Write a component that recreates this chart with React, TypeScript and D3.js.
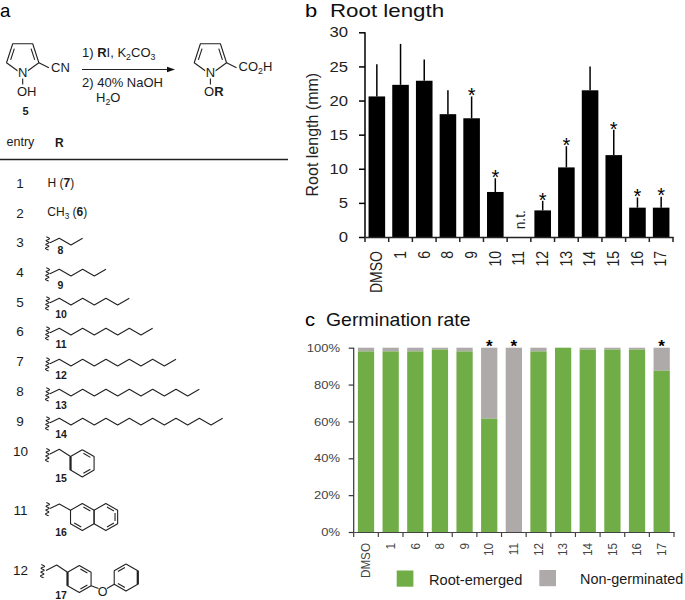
import { useEffect, useRef } from 'react';
import * as d3 from 'd3';

const categories = ["DMSO", "1", "6", "8", "9", "10", "11", "12", "13", "14", "15", "16", "17"];
// null = not tested
const rootLength = [20.6, 22.3, 22.9, 18.0, 17.4, 6.6, null, 3.9, 10.2, 21.5, 12.0, 4.3, 4.3];
const rootLengthTop = [25.3, 28.3, 26.0, 21.5, 20.6, 8.6, null, 5.3, 13.3, 25.0, 15.7, 5.8, 5.9];
const rootStars = ["9", "10", "12", "13", "15", "16", "17"];
const rootEmerged = [98, 98, 98, 99, 98, 61.5, 0, 98, 100, 99, 99, 99, 87.5];
const germStars = ["10", "11", "17"];

const GREEN = "#70ad47";
const GREY = "#aeaaaa";
const FONT = "'Liberation Sans', Arial, sans-serif";

// alkyl chains of table a: entry, label, zigzag steps, peak y, entry baseline, label baseline
const chainEntries = ["3", "4", "5", "6", "7", "8", "9"];
const chainLabels = ["8", "9", "10", "11", "12", "13", "14"];
const chainSteps = [2, 4, 6, 8, 10, 12, 14];
const chainY = [238.3, 269.3, 298.3, 328.3, 359.3, 389.3, 418.3];
const chainEntryY = [246.7, 277, 306.7, 336, 366, 395.7, 426];
const chainLabelY = [254.3, 288.7, 318.3, 348.3, 379.3, 408.7, 438.3];

const App = () => {
  const svgRef = useRef<SVGSVGElement>(null);

  useEffect(() => {
    const svg = d3.select(svgRef.current);
    svg.selectAll("*").remove();
    svg.style("font-family", FONT);

    const label = (g: any, x: number, y: number, parts: any, size: number, anchor = "start", fill = "#1a1a1a", sx = 1) => {
      const t = g.append("text").attr("font-size", size).attr("text-anchor", anchor).attr("fill", fill);
      // the source figure is a little wider than tall, sx puts that back
      if (sx === 1) t.attr("x", x).attr("y", y);
      else t.attr("transform", `translate(${x},${y}) scale(${sx},1)`);
      const list = typeof parts === "string" ? [[parts]] : parts;
      list.forEach(([s, kind]: string[]) => {
        const sp = t.append("tspan").text(s);
        if (kind === "b") sp.attr("font-weight", "bold");
        if (kind === "sub") sp.attr("font-size", size * 0.68).attr("dy", size * 0.25);
        if (kind === "after") sp.attr("dy", -size * 0.25);
      });
      return t;
    };

    const line = d3.line();
    const bond = (g: any, pts: [number, number][], w = 1.1) =>
      g.append("path").attr("d", line(pts)).attr("fill", "none").attr("stroke", "#222")
        .attr("stroke-width", w).attr("stroke-linejoin", "round");

    // regular polygon vertices, start angle in degrees
    const polygon = (cx: number, cy: number, r: number, n: number, start: number): [number, number][] =>
      d3.range(n).map(i => {
        const a = (start + i * 360 / n) * Math.PI / 180;
        return [cx + r * Math.cos(a), cy + r * Math.sin(a)] as [number, number];
      });

    // ring outline plus inner lines on the given edges
    const ring = (g: any, pts: [number, number][], cx: number, cy: number, doubles: number[], bold: number[] = []) => {
      bond(g, [...pts, pts[0]]);
      doubles.forEach(i => {
        const a = pts[i], b = pts[(i + 1) % pts.length];
        const inner = (p: [number, number], q: [number, number]): [number, number] => {
          const mx = p[0] + (q[0] - p[0]) * 0.12, my = p[1] + (q[1] - p[1]) * 0.12;
          return [cx + (mx - cx) * 0.78, cy + (my - cy) * 0.78];
        };
        bond(g, [inner(a, b), inner(b, a)]);
      });
      bold.forEach(i => bond(g, [pts[i], pts[(i + 1) % pts.length]], 2.2));
    };

    const squiggle = (g: any, x: number, y: number) => {
      const wave = d3.line().curve(d3.curveCatmullRom);
      const pts = d3.range(8).map(i => [x + (i % 2 ? 1.7 : -1.7) - i * 0.15, y - 6.5 + i * 1.9] as [number, number]);
      g.append("path").attr("d", wave(pts)).attr("fill", "none").attr("stroke", "#222").attr("stroke-width", 1.1);
    };

    const pyrrole = (g: any, cx: number) => {
      const cy = 57.5;
      const pts = polygon(cx, cy, 17, 5, 90);
      // pts: 0 = N (bottom), 1 = lower left, 2 = upper left, 3 = upper right, 4 = lower right
      ring(g, pts, cx, cy, [1, 3]);
      g.append("circle").attr("cx", pts[0][0]).attr("cy", pts[0][1] - 2).attr("r", 5.5).attr("fill", "#fff");
      bond(g, [[pts[4][0] + 10, pts[4][1] + 5], pts[4]]);
      bond(g, [[pts[0][0], pts[0][1] + 4], [pts[0][0], pts[0][1] + 10]]);
      label(g, cx, 76.7, "N", 13, "middle");
    };

    /* ---------- panel a ---------- */
    const a = svg.append("g");
    label(a, 0, 16.8, "a", 18.6, "start", "#000");
    pyrrole(a, 22.7);
    pyrrole(a, 210.4);
    label(a, 51, 72, "CN", 13);
    label(a, 17, 96, "OH", 13);
    label(a, 25.5, 115, [["5", "b"]], 11, "middle");
    label(a, 238.5, 71, [["CO"], ["2", "sub"], ["H", "after"]], 13);
    label(a, 204, 96, [["O"], ["R", "b"]], 13);

    label(a, 82, 57, [["1) "], ["R", "b"], ["I, K"], ["2", "sub"], ["CO", "after"], ["3", "sub"]], 13);
    label(a, 82, 87, "2) 40% NaOH", 13);
    label(a, 96, 102, [["H"], ["2", "sub"], ["O", "after"]], 13);
    bond(a, [[82, 69.5], [170, 69.5]], 1.2);
    a.append("path").attr("d", d3.line()([[175, 69.5], [167, 66.8], [167, 72.2]]) + "Z").attr("fill", "#111");

    label(a, 6.5, 146, "entry", 12.5);
    label(a, 55, 147, [["R", "b"]], 12);
    bond(a, [[0, 159.5], [288, 159.5]], 1.5);

    label(a, 20, 187.7, "1", 13.5, "middle");
    label(a, 47.5, 187, [["H ("], ["7", "b"], [")"]], 12);
    label(a, 20, 217.7, "2", 13.5, "middle");
    label(a, 47.3, 216, [["CH"], ["3", "sub"], [" (", "after"], ["6", "b"], [")"]], 12);

    chainEntries.forEach((entry, i) => {
      const top = chainY[i];
      const pts: [number, number][] = [[50, top + 4.5]];
      d3.range(chainSteps[i] + 1).forEach(s => pts.push([59.3 + s * 11.67, top + (s % 2 ? 6.7 : 0)]));
      bond(a, pts);
      squiggle(a, 48, top + 5);
      label(a, 20, chainEntryY[i], entry, 13.5, "middle");
      label(a, i < 2 ? 60.3 : 61, chainLabelY[i], [[chainLabels[i], "b"]], 10.5, "middle");
    });

    // entry 10, benzyl
    const hexR = 13.6;
    const benzyl = polygon(82.3, 463.3, hexR, 6, -90);
    bond(a, [[50, 454], [59.3, 449.3], benzyl[5]]);
    ring(a, benzyl, 82.3, 463.3, [0, 2], [4]);
    squiggle(a, 48, 455);
    label(a, 20.5, 455.7, "10", 13.5, "middle");
    label(a, 61, 482, [["15", "b"]], 10.5, "middle");

    // entry 11, naphthyl
    const naphA = polygon(82.3, 517, hexR, 6, -90);
    const naphB = polygon(82.3 + hexR * Math.sqrt(3), 517, hexR, 6, -90);
    bond(a, [[50, 508.5], [59.3, 504], naphA[5]]);
    ring(a, naphA, 82.3, 517, [0, 3]);
    ring(a, naphB, 82.3 + hexR * Math.sqrt(3), 517, [0, 1, 2]);
    squiggle(a, 48, 509);
    label(a, 20.5, 515, "11", 13.5, "middle");
    label(a, 61, 536, [["16", "b"]], 10.5, "middle");

    // entry 12, phenoxybenzyl
    const phA = polygon(79.3, 579, hexR, 6, -90);
    const phB = polygon(126, 577.5, hexR, 6, -90);
    bond(a, [[46, 570.5], [56.7, 565], phA[5]]);
    ring(a, phA, 79.3, 579, [0, 2], [4]);
    ring(a, phB, 126, 577.5, [3, 5], [1]);
    bond(a, [phA[2], [98.5, 588.5]]);
    bond(a, [[107, 588.5], phB[4]]);
    squiggle(a, 43, 571);
    label(a, 102.7, 595.5, "O", 12.5, "middle");
    label(a, 20.5, 575, "12", 13.5, "middle");
    label(a, 61, 599, [["17", "b"]], 10.5, "middle");

    /* ---------- panel b ---------- */
    const b = svg.append("g");
    label(b, 305, 16.8, "b", 18.6, "start", "#000", 1.18);
    label(b, 330, 16.8, "Root length", 18.6, "start", "#111", 1.2);

    const xB = d3.scaleBand().domain(categories).range([365, 673]).paddingInner(0.3).paddingOuter(0.15);
    const yB = d3.scaleLinear().domain([0, 30]).range([237, 32.3]);

    categories.forEach((c, i) => {
      const v = rootLength[i], top = rootLengthTop[i];
      const cx = xB(c)! + xB.bandwidth() / 2;
      if (v == null || top == null) {
        b.append("text").attr("transform", `translate(${cx + 6},229.3) rotate(-90)`)
          .attr("font-size", 13.8).attr("fill", "#222").text("n.t.");
        return;
      }
      b.append("line").attr("x1", cx).attr("x2", cx).attr("y1", yB(v)).attr("y2", yB(top))
        .attr("stroke", "#000").attr("stroke-width", 1.5);
      b.append("rect").attr("x", xB(c)!).attr("y", yB(v)).attr("width", xB.bandwidth())
        .attr("height", yB(0) - yB(v)).attr("fill", "#000");
      if (rootStars.includes(c)) {
        label(b, cx, yB(top) + 5.7, "*", 20, "middle", "#000");
      }
    });

    const leftB = b.append("g").attr("transform", "translate(365,0)")
      .call(d3.axisLeft(yB).tickValues([0, 5, 10, 15, 20, 25, 30]).tickSize(6));
    leftB.selectAll("text").attr("font-size", 14.5).attr("font-family", FONT).attr("fill", "#222")
      .attr("x", 0).attr("transform", "translate(-17,0) scale(1.15,1)");
    leftB.selectAll("path,line").attr("stroke", "#000").attr("stroke-width", 1.5);
    leftB.select("path").attr("d", `M0,${yB(30)}V${yB(0)}`);

    const drawBottom = (g: any, x: any, y0: number, size: number, color: string, w: number, pad: number) => {
      const axis = g.append("g").attr("transform", `translate(0,${y0})`)
        .call(d3.axisBottom(x).tickSize(0).tickPadding(pad));
      axis.selectAll("path").attr("stroke", color).attr("stroke-width", w);
      // tick marks sit on the boundaries between bands
      const [r0, r1] = x.range();
      d3.range(categories.length + 1).forEach(i => {
        const tx = r0 + i * (r1 - r0) / categories.length;
        axis.append("line").attr("x1", tx).attr("x2", tx).attr("y1", 0).attr("y2", 5)
          .attr("stroke", color).attr("stroke-width", w);
      });
      axis.selectAll(".tick").each(function (this: any, d: any) {
        d3.select(this).attr("transform", `translate(${x(d) + x.bandwidth() / 2},${pad + 6})`)
          .select("text").attr("x", 0).attr("y", 0).attr("dy", null)
          .attr("font-size", size).attr("font-family", FONT).attr("fill", color)
          .attr("text-anchor", "end").attr("dominant-baseline", "central")
          .attr("transform", "scale(1.12,1) rotate(-90)");
      });
    };
    drawBottom(b, xB, yB(0), 14, "#222", 1.5, 8);

    b.append("text").attr("transform", `translate(318,${(yB(0) + yB(30)) / 2}) rotate(-90)`)
      .attr("text-anchor", "middle").attr("font-size", 16).attr("fill", "#222").text("Root length (mm)");

    /* ---------- panel c ---------- */
    const c = svg.append("g");
    label(c, 305, 326, "c", 17.5, "start", "#000", 1.15);
    label(c, 326, 326, "Germination rate", 17.5, "start", "#111", 1.11);

    const xC = d3.scaleBand().domain(categories).range([353.7, 674]).paddingInner(0.34).paddingOuter(0.17);
    const yC = d3.scaleLinear().domain([0, 100]).range([532, 347.7]);

    categories.forEach((cat, i) => {
      const v = rootEmerged[i];
      c.append("rect").attr("x", xC(cat)!).attr("y", yC(100)).attr("width", xC.bandwidth())
        .attr("height", yC(v) - yC(100)).attr("fill", GREY);
      c.append("rect").attr("x", xC(cat)!).attr("y", yC(v)).attr("width", xC.bandwidth())
        .attr("height", yC(0) - yC(v)).attr("fill", GREEN);
      if (germStars.includes(cat)) {
        label(c, xC(cat)! + xC.bandwidth() / 2, 352, [["*", "b"]], 17, "middle", "#000");
      }
    });

    const leftC = c.append("g").attr("transform", "translate(353.7,0)")
      .call(d3.axisLeft(yC).tickValues([0, 20, 40, 60, 80, 100]).tickFormat(d => `${d}%`).tickSize(5));
    leftC.selectAll("text").attr("font-size", 11.5).attr("font-family", FONT).attr("fill", "#444")
      .attr("x", 0).attr("transform", "translate(-13.7,0) scale(1.13,1)");
    leftC.selectAll("path,line").attr("stroke", "#333").attr("stroke-width", 1.2);
    leftC.select("path").attr("d", `M0,${yC(100)}V${yC(0)}`);
    drawBottom(c, xC, yC(0), 11.7, "#444", 1.2, 5);

    c.append("rect").attr("x", 396.7).attr("y", 570.5).attr("width", 16.7).attr("height", 16.2).attr("fill", GREEN);
    c.append("rect").attr("x", 539.3).attr("y", 570).attr("width", 16.7).attr("height", 16.2).attr("fill", GREY);
    label(c, 429, 585, "Root-emerged", 14.6);
    label(c, 580, 584, "Non-germinated", 14.4);
  }, []);

  return (
    <svg ref={svgRef} width={685} height={600}
      style={{ position: "absolute", left: 0, top: 0, background: "#fff" }} />
  );
};

export default App;
